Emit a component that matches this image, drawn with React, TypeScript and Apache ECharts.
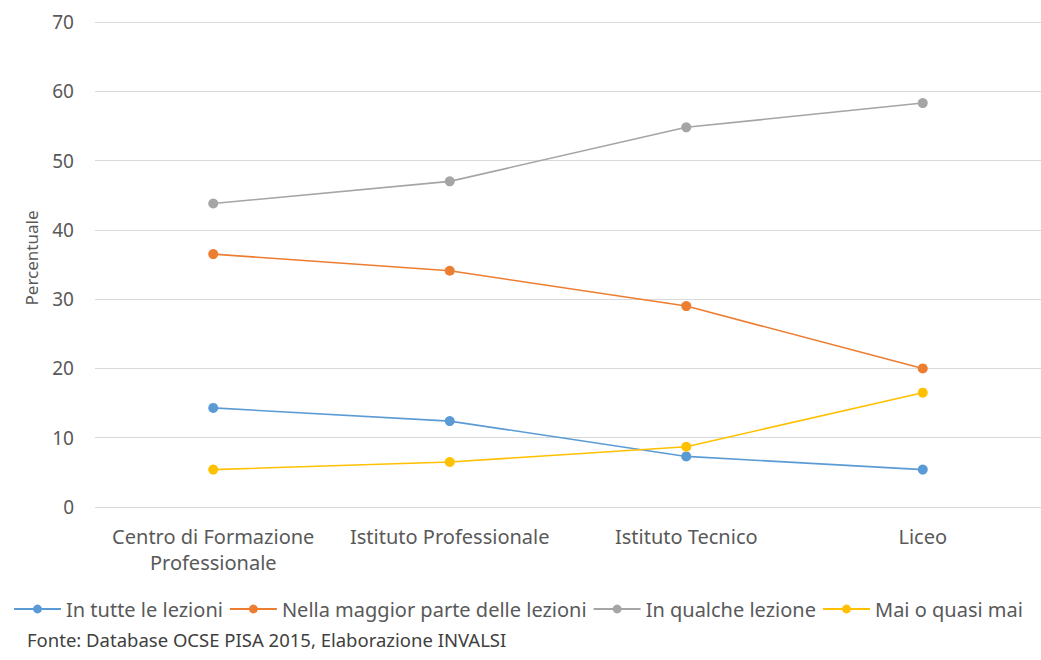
import React, { useEffect, useRef } from "react";
import * as echarts from "echarts";

const categories = ["Centro di Formazione\nProfessionale", "Istituto Professionale", "Istituto Tecnico", "Liceo"];
const seriesNames = ["In tutte le lezioni", "Nella maggior parte delle lezioni", "In qualche lezione", "Mai o quasi mai"];
const tutte = [14.3, 12.4, 7.3, 5.4];
const maggior = [36.5, 34.1, 29.0, 20.0];
const qualche = [43.8, 47.0, 54.8, 58.3];
const mai = [5.4, 6.5, 8.7, 16.5];
const colors = ["#5B9BD5", "#ED7D31", "#A5A5A5", "#FFC000"];
const yAxisTitle = "Percentuale";
const sourceText = "Fonte: Database OCSE PISA 2015, Elaborazione INVALSI";

const FONT = "'Noto Sans', sans-serif";

export default function App() {
  const ref = useRef<HTMLDivElement>(null);
  useEffect(() => {
    document.body.style.margin = "0";
    const chart = echarts.init(ref.current!, null, { renderer: "svg" });
    const data = [tutte, maggior, qualche, mai];
    chart.setOption({
      animation: false,
      backgroundColor: "#ffffff",
      textStyle: { fontFamily: FONT },
      grid: { left: 95, right: -4, top: 22, bottom: 153, containLabel: false },
      xAxis: {
        type: "category",
        data: categories,
        boundaryGap: true,
        axisLine: { show: false },
        axisTick: { show: false },
        axisLabel: { color: "#595959", fontSize: 20, lineHeight: 26, margin: 16, interval: 0, fontFamily: FONT },
      },
      yAxis: {
        type: "value",
        min: 0,
        max: 70,
        interval: 10,
        axisLine: { show: false },
        axisTick: { show: false },
        axisLabel: { color: "#595959", fontSize: 19, margin: 21, fontFamily: FONT },
        splitLine: { lineStyle: { color: "#D9D9D9", width: 1 } },
      },
      legend: {
        left: 8,
        top: 594,
        itemWidth: 47,
        itemHeight: 11,
        itemGap: 6,
        data: seriesNames,
        textStyle: { color: "#595959", fontSize: 20, fontFamily: FONT },
      },
      graphic: [
        {
          type: "text",
          x: 31,
          y: 258,
          rotation: Math.PI / 2,
          style: { text: yAxisTitle, fill: "#595959", fontSize: 17, fontFamily: FONT, align: "center", verticalAlign: "middle" },
        },
        {
          type: "text",
          left: 27,
          top: 630,
          style: { text: sourceText, fill: "#404040", fontSize: 18.5, fontFamily: FONT },
        },
      ],
      series: seriesNames.map((name, i) => ({
        name,
        type: "line",
        data: data[i],
        symbol: "circle",
        symbolSize: 10,
        color: colors[i],
        lineStyle: { width: 1.6, color: colors[i] },
        itemStyle: { color: colors[i] },
      })),
    });
    return () => chart.dispose();
  }, []);
  return <div ref={ref} style={{ width: 1041, height: 660 }} />;
}
